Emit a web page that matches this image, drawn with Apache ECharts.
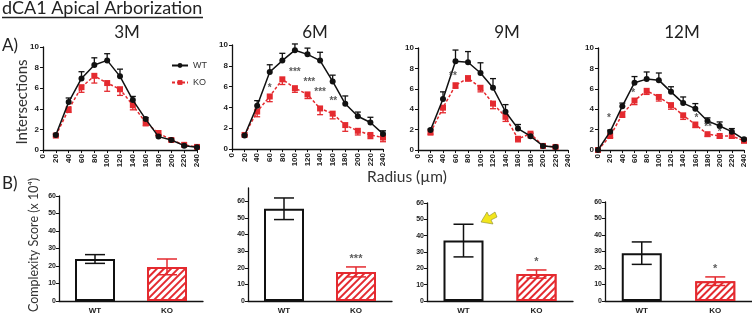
<!DOCTYPE html>
<html><head><meta charset="utf-8">
<script src="https://cdn.jsdelivr.net/npm/echarts@6/dist/echarts.min.js"></script>
<style>html,body{margin:0;padding:0;background:#fff}#c{width:752px;height:315px}</style>
</head><body><div id="c"></div>
<script>
// ---------- DATA ----------
const radii = [20,40,60,80,100,120,140,160,180,200,220,240];
const radii9 = [20,40,60,80,100,120,140,160,180,200,220];
const radii12 = [0,20,40,60,80,100,120,140,160,180,200,220,240];
const panelTitles = ['3M','6M','9M','12M'];

const wt3    = [1.45,4.65,6.95,8.25,8.7,7.15,4.85,3.0,1.3,0.97,0.42,0.26];
const wt3Err = [0.1,0.4,0.65,0.7,0.65,0.7,0.35,0.15,0.15,0.1,0.1,0.1];
const ko3    = [1.4,3.95,6.1,7.2,6.5,5.9,4.35,2.65,1.65,0.97,0.5,0.3];
const ko3Err = [0.1,0.3,0.5,0.7,0.8,0.6,0.45,0.3,0.25,0.1,0.15,0.1];

const wt6    = [1.3,4.15,7.4,8.5,9.5,9.1,8.5,6.5,4.35,3.15,2.55,1.45];
const wt6Err = [0.1,0.5,0.7,0.7,0.6,0.6,0.8,0.6,0.75,0.4,0.5,0.3];
const ko6    = [1.35,3.6,5.05,6.7,5.85,5.25,3.9,3.4,2.3,1.75,1.35,1.1];
const ko6Err = [0.1,0.5,0.5,0.5,0.4,0.4,0.6,0.5,0.6,0.4,0.35,0.4];

const wt9    = [1.95,5.0,8.7,8.6,7.55,6.1,3.75,2.1,1.35,0.4,0.3];
const wt9Err = [0.1,0.7,1.1,1.05,1.0,0.9,0.7,0.4,0.3,0.1,0.1];
const ko9    = [1.7,4.15,6.35,7.05,6.1,4.55,3.25,1.1,1.6,0.4,0.3];
const ko9Err = [0.15,0.5,0.3,0.3,0.4,0.5,0.45,0.3,0.4,0.1,0.1];

const wt12    = [0,1.8,4.3,6.6,6.95,6.85,5.7,4.6,4.05,2.85,2.35,1.8,1.05];
const wt12Err = [0,0.15,0.3,0.6,0.7,0.7,0.5,0.6,0.5,0.3,0.4,0.3,0.1];
const ko12    = [0,1.37,3.5,4.85,5.8,5.2,4.4,3.4,2.5,1.55,1.37,1.37,0.9];
const ko12Err = [0,0.15,0.3,0.4,0.35,0.4,0.4,0.4,0.3,0.2,0.2,0.2,0.1];

// significance marks: [radius, height, text]
const sig3 = [];
const sig6 = [[60,5.8,'*'],[100,7.4,'***'],[123,6.4,'***'],[140,5.5,'***'],[161,4.6,'**']];
const sig9 = [[56,7.2,'**']];
const sig12 = [[18,3.1,'*'],[58,5.6,'*'],[162,3.1,'*'],[181,2.2,'**'],[200,1.7,'*']];

const groups = ['WT','KO'];
const scoreWT    = [24, 55.5, 37, 29];
const scoreWTErr = [2.5, 6.5, 10, 6.8];
const scoreKO    = [19.5, 17.5, 16.5, 12];
const scoreKOErr = [4.5, 3, 2.5, 2.6];
const scoreSig   = ['', '***', '*', '*'];

// ---------- LAYOUT ----------
const RED = '#e42a2f';
const lineGrids = [
  {left:43, top:47, width:154, height:103},
  {left:232, top:45, width:151, height:104},
  {left:418, top:48, width:150, height:102},
  {left:598, top:48, width:146, height:102}
];
const barGrids = [
  {left:59, top:196, width:144, height:105, max:60},
  {left:248, top:188, width:144, height:114, max:68},
  {left:427, top:203, width:146, height:99, max:60},
  {left:605, top:202, width:147, height:100, max:60}
];
const lineSets = [
  {r:radii, wt:wt3, wte:wt3Err, ko:ko3, koe:ko3Err, sig:sig3},
  {r:radii, wt:wt6, wte:wt6Err, ko:ko6, koe:ko6Err, sig:sig6},
  {r:radii9, wt:wt9, wte:wt9Err, ko:ko9, koe:ko9Err, sig:sig9},
  {r:radii12, wt:wt12, wte:wt12Err, ko:ko12, koe:ko12Err, sig:sig12}
];

const tickFont = {fontFamily:'Liberation Sans', fontWeight:'bold', fontSize:8, color:'#222'};
const axisLine = {show:true, lineStyle:{color:'#111', width:1.3}};

function errRender(dir, color, cap){
  return function(params, api){
    const x = api.value(0), y = api.value(1), e = api.value(2);
    if (!e) return null;
    const p0 = api.coord([x, y]);
    const p1 = api.coord([x, y + dir*e]);
    return {type:'group', children:[
      {type:'line', shape:{x1:p0[0],y1:p0[1],x2:p1[0],y2:p1[1]}, style:{stroke:color, lineWidth:1.3}},
      {type:'line', shape:{x1:p1[0]-cap,y1:p1[1],x2:p1[0]+cap,y2:p1[1]}, style:{stroke:color, lineWidth:1.3}}]};
  };
}
function barErrRender(color, cap){
  return function(params, api){
    const x = api.value(0), y = api.value(1), e = api.value(2);
    const lo = api.coord([x, y - e]), hi = api.coord([x, y + e]);
    return {type:'group', children:[
      {type:'line', shape:{x1:lo[0],y1:lo[1],x2:hi[0],y2:hi[1]}, style:{stroke:color, lineWidth:1.5}},
      {type:'line', shape:{x1:hi[0]-cap,y1:hi[1],x2:hi[0]+cap,y2:hi[1]}, style:{stroke:color, lineWidth:1.5}},
      {type:'line', shape:{x1:lo[0]-cap,y1:lo[1],x2:lo[0]+cap,y2:lo[1]}, style:{stroke:color, lineWidth:1.5}}
    ]};
  };
}

const grid = [], xAxis = [], yAxis = [], series = [];
lineGrids.forEach((g, i) => {
  grid.push({left:g.left, top:g.top, width:g.width, height:g.height, containLabel:false});
  xAxis.push({type:'value', gridIndex:i, min:0, max:240, interval:20,
    axisLine:axisLine, axisTick:{show:true, length:3, lineStyle:{color:'#111'}},
    splitLine:{show:false}, axisLabel:Object.assign({rotate:90, margin:4}, tickFont)});
  yAxis.push({type:'value', gridIndex:i, min:0, max:10, interval:2,
    axisLine:axisLine, axisTick:{show:true, length:3, lineStyle:{color:'#111'}},
    splitLine:{show:false}, axisLabel:Object.assign({margin:4}, tickFont)});
  const s = lineSets[i];
  series.push({type:'custom', name:'errWT'+i, xAxisIndex:i, yAxisIndex:i, z:1, silent:true,
    renderItem:errRender(1,'#111',3), data:s.r.map((r,k)=>[r, s.wt[k], s.wte[k]])});
  series.push({type:'custom', name:'errKO'+i, xAxisIndex:i, yAxisIndex:i, z:1, silent:true,
    renderItem:errRender(-1,RED,3), data:s.r.map((r,k)=>[r, s.ko[k], s.koe[k]])});
  series.push({type:'line', name:'WT', xAxisIndex:i, yAxisIndex:i, z:4,
    symbol:'circle', symbolSize:6, showAllSymbol:true,
    lineStyle:{color:'#111', width:1.5}, itemStyle:{color:'#111'},
    data:s.r.map((r,k)=>[r, s.wt[k]])});
  series.push({type:'line', name:'KO', xAxisIndex:i, yAxisIndex:i, z:3,
    symbol:'rect', symbolSize:6, showAllSymbol:true,
    lineStyle:{color:RED, width:1.5, type:[3,2]}, itemStyle:{color:RED},
    data:s.r.map((r,k)=>[r, s.ko[k]])});
  if (s.sig.length) series.push({type:'scatter', name:'sig'+i, xAxisIndex:i, yAxisIndex:i, symbolSize:0, z:5,
    label:{show:true, position:'inside', formatter:p=>p.data[2], fontFamily:'Liberation Sans', fontWeight:'bold', fontSize:10, color:'#333'},
    data:s.sig});
});

barGrids.forEach((g, j) => {
  const i = j + 4;
  grid.push({left:g.left, top:g.top, width:g.width, height:g.height});
  xAxis.push({type:'category', gridIndex:i, data:groups, axisLine:axisLine, axisTick:{show:false},
    axisLabel:Object.assign({margin:6}, tickFont)});
  yAxis.push({type:'value', gridIndex:i, min:0, max:g.max, interval:10,
    axisLine:axisLine, axisTick:{show:true, length:3, lineStyle:{color:'#111'}},
    splitLine:{show:false}, axisLabel:Object.assign({margin:3, showMaxLabel:g.max===60}, tickFont, {fontSize:7})});
  series.push({type:'bar', name:'scoreWT'+j, xAxisIndex:i, yAxisIndex:i, barWidth:40, barGap:'-100%', z:2,
    itemStyle:{color:'#fff', borderColor:'#111', borderWidth:2},
    data:[scoreWT[j], '-']});
  series.push({type:'bar', name:'scoreKO'+j, xAxisIndex:i, yAxisIndex:i, barWidth:40, barGap:'-100%', z:2,
    itemStyle:{color:'#fff', borderColor:RED, borderWidth:2,
      decal:{symbol:'rect', symbolSize:1, dashArrayX:[[1,0]], dashArrayY:[2,2.5], rotation:-Math.PI/4, color:RED, backgroundColor:'#fff'}},
    data:['-', scoreKO[j]]});
  series.push({type:'custom', name:'scoreErr'+j, xAxisIndex:i, yAxisIndex:i, z:3, silent:true,
    renderItem:function(params, api){
      const idx = api.value(0);
      return barErrRender(idx === 0 ? '#111' : RED, 10)(params, api);
    },
    data:[[0, scoreWT[j], scoreWTErr[j]], [1, scoreKO[j], scoreKOErr[j]]]});
  if (scoreSig[j]) series.push({type:'scatter', name:'scoreSig'+j, xAxisIndex:i, yAxisIndex:i, symbolSize:0, z:5,
    label:{show:true, position:'inside', formatter:p=>p.data[2], fontFamily:'Liberation Sans', fontWeight:'bold', fontSize:11, color:'#333'},
    data:[[1, scoreKO[j]+scoreKOErr[j]+5, scoreSig[j]]]});
});

const graphic = [
  {type:'text', left:2, top:-1, style:{text:'dCA1 Apical Arborization', font:'18px Lato', fill:'#222'}},
  {type:'line', shape:{x1:2, y1:17.5, x2:203, y2:17.5}, style:{stroke:'#222', lineWidth:1.3}},
  {type:'text', left:2, top:37, style:{text:'A)', font:'17px Lato', fill:'#222'}},
  {type:'text', left:2, top:175, style:{text:'B)', font:'17px Lato', fill:'#222'}},
  {type:'text', x:22, y:102, rotation:Math.PI/2, style:{text:'Intersections', font:'15px Lato', fill:'#333', align:'center', verticalAlign:'middle'}},
  {type:'text', x:407, y:177, style:{text:'Radius (µm)', font:'15.5px Lato', fill:'#333', align:'center', verticalAlign:'middle'}},
  {type:'text', x:34, y:245, rotation:Math.PI/2, style:{text:'Complexity Score (x 10⁴)', font:'12.5px Lato', fill:'#333', align:'center', verticalAlign:'middle'}},
  {type:'polygon', shape:{points:[[481,222],[487,212],[489,216],[495,212],[497,217],[491,220],[493,224]]},
    style:{fill:'#f2e51c', stroke:'#8a8a30', lineWidth:0.6}}
];
const titleX = [127, 315, 507, 682];
panelTitles.forEach((t, i) => graphic.push({type:'text', x:titleX[i], y:33,
  style:{text:t, font:'17px Lato', fill:'#222', align:'center', verticalAlign:'middle'}}));

const chart = echarts.init(document.getElementById('c'), null, {renderer:'canvas'});
chart.setOption({
  animation:false,
  backgroundColor:'#fff',
  grid, xAxis, yAxis, series, graphic,
  legend:{data:['WT','KO'], orient:'vertical', left:166, top:56, itemWidth:16, itemHeight:6, itemGap:8,
    textStyle:{fontFamily:'Liberation Sans', fontSize:9, color:'#333'}}
});
</script></body></html>
